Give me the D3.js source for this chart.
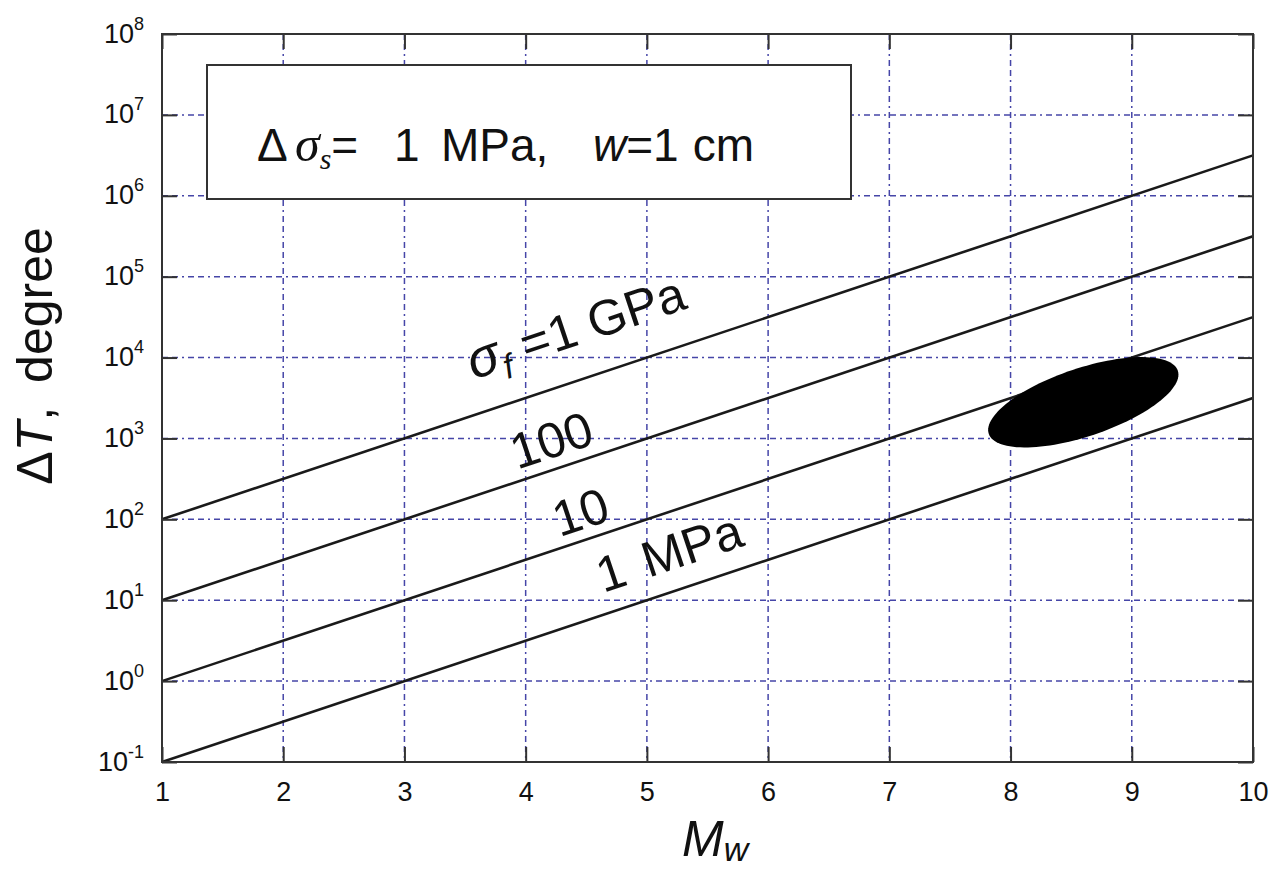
<!DOCTYPE html>
<html lang="en">
<head>
  <meta charset="UTF-8">
  <title>Delta T vs Mw</title>
  <style>
    body { margin: 0; background: #fff; }
    text { font-family: "Liberation Sans", Arial, Helvetica, sans-serif; fill: #111; }
  </style>
</head>
<body>
  <script src="https://d3js.org/d3.v7.min.js"></script>
  <script>
    // magnitude range and the four stress-drop lines (value at Mw=1 and Mw=10)
    const mwRange = [1, 10];
    const lineLabels = ['1 GPa', '100', '10', '1 MPa'];
    const dTStart = [1e2, 1e1, 1e0, 1e-1];
    const dTEnd = [3.16e6, 3.16e5, 3.16e4, 3.16e3];
    // where each label sits (Mw, deltaT)
    const labelMw = [3.57, 3.93, 4.28, 4.64];
    const labelDT = [5300, 410, 60, 12.3];

    const xTicks = [1, 2, 3, 4, 5, 6, 7, 8, 9, 10];
    const yExponents = [-1, 0, 1, 2, 3, 4, 5, 6, 7, 8];

    // observed region (black ellipse), center and half-axes in (Mw, decades)
    const blobCenter = [8.6, 2800];
    const blobMajor = [0.78, 0.39];
    const blobMinor = [0.088, -0.40];

    const [width, height] = [1274, 870];
    const margin = { top: 34, left: 162, right: 21, bottom: 108 };
    const w = width - margin.left - margin.right;
    const h = height - margin.top - margin.bottom;

    const svg = d3.select('body').append('svg').attr('width', width).attr('height', height);
    const g = svg.append('g').attr('transform', `translate(${margin.left},${margin.top})`);

    const x = d3.scaleLinear().domain(mwRange).range([0, w]);
    const y = d3.scaleLog().domain([1e-1, 1e8]).range([h, 0]);
    const yTicks = yExponents.map(e => Math.pow(10, e));

    // grid
    const gridColor = '#4646a8';
    const grid = g.append('g').attr('class', 'grid');
    grid.selectAll('line.v').data(xTicks).enter().append('line')
      .attr('x1', d => x(d)).attr('x2', d => x(d)).attr('y1', 0).attr('y2', h);
    grid.selectAll('line.h').data(yTicks).enter().append('line')
      .attr('y1', d => y(d)).attr('y2', d => y(d)).attr('x1', 0).attr('x2', w);
    grid.selectAll('line')
      .attr('stroke', gridColor).attr('stroke-width', 1.5)
      .attr('stroke-dasharray', '6,4,6,4,2,4');

    // lines
    const line = d3.line().x(d => x(d[0])).y(d => y(d[1]));
    g.append('g').selectAll('path')
      .data(lineLabels.map((l, i) => [[mwRange[0], dTStart[i]], [mwRange[1], dTEnd[i]]]))
      .enter().append('path')
      .attr('d', line)
      .attr('fill', 'none').attr('stroke', '#1a1a1a').attr('stroke-width', 2.6);

    // black ellipse
    const blobPts = d3.range(0, 2 * Math.PI + 0.01, Math.PI / 60).map(t => {
      const mw = blobCenter[0] + blobMajor[0] * Math.cos(t) + blobMinor[0] * Math.sin(t);
      const lg = Math.log10(blobCenter[1]) + blobMajor[1] * Math.cos(t) + blobMinor[1] * Math.sin(t);
      return [mw, Math.pow(10, lg)];
    });
    g.append('path').attr('d', line(blobPts) + 'Z').attr('fill', '#000');

    // line labels, rotated along the lines
    const angle = Math.atan2(y(dTEnd[0]) - y(dTStart[0]), x(mwRange[1]) - x(mwRange[0])) * 180 / Math.PI;
    const labels = g.append('g').selectAll('text')
      .data(lineLabels).enter().append('text')
      .attr('transform', (d, i) => `translate(${x(labelMw[i])},${y(labelDT[i])}) rotate(${angle})`)
      .attr('font-size', 50);
    labels.each(function (d, i) {
      const t = d3.select(this);
      if (i === 0) {
        t.append('tspan').attr('font-style', 'italic').attr('font-size', 54).text('σ');
        t.append('tspan').attr('font-style', 'italic').attr('font-size', 34).attr('dy', 10).text('f');
        t.append('tspan').attr('dy', -10).attr('dx', 14).text('=1 GPa');
      } else if (i === 3) {
        t.append('tspan').text('1');
        t.append('tspan').attr('dx', 20).text('MPa');
      } else {
        t.text(d);
      }
    });

    // annotation box
    const boxX = 207 - margin.left, boxY = 65 - margin.top;
    g.append('rect').attr('x', boxX).attr('y', boxY).attr('width', 644).attr('height', 134)
      .attr('fill', '#fff').attr('stroke', '#333').attr('stroke-width', 2);
    const bt = g.append('text').attr('y', boxY + 96).attr('font-size', 46);
    bt.append('tspan').attr('x', boxX + 50).text('Δ');
    bt.append('tspan').attr('x', boxX + 88).attr('font-family', 'Liberation Serif, Times New Roman, serif')
      .attr('font-style', 'italic').attr('font-size', 50).text('σ');
    bt.append('tspan').attr('font-family', 'Liberation Serif, Times New Roman, serif')
      .attr('font-style', 'italic').attr('font-size', 30).attr('dy', 8).text('s');
    bt.append('tspan').attr('dy', -8).text('=');
    bt.append('tspan').attr('x', boxX + 187).text('1');
    bt.append('tspan').attr('x', boxX + 234).text('MPa,');
    bt.append('tspan').attr('x', boxX + 386).attr('font-style', 'italic').text('w');
    bt.append('tspan').text('=1');
    bt.append('tspan').attr('dx', 14).text('cm');

    // axes, ticks pointing inward, mirrored on top and right
    const tick = 15;
    const axisStyle = sel => {
      sel.selectAll('.tick line').attr('stroke', '#333').attr('stroke-width', 2);
      sel.select('.domain').remove();
    };
    g.append('g').attr('transform', `translate(0,${h})`)
      .call(d3.axisBottom(x).tickValues(xTicks).tickSize(-tick).tickPadding(20).tickFormat(d3.format('d')))
      .call(axisStyle)
      .selectAll('text').attr('font-size', 27).attr('fill', '#111')
      .attr('font-family', '"Liberation Sans", Arial, sans-serif');
    g.append('g')
      .call(d3.axisTop(x).tickValues(xTicks).tickSize(-tick).tickFormat(''))
      .call(axisStyle);
    const yAxis = g.append('g')
      .call(d3.axisLeft(y).tickValues(yTicks).tickSize(-tick).tickFormat(''))
      .call(axisStyle);
    g.append('g').attr('transform', `translate(${w},0)`)
      .call(d3.axisRight(y).tickValues(yTicks).tickSize(-tick).tickFormat(''))
      .call(axisStyle);

    // y tick labels as 10^n
    yAxis.selectAll('.tick').each(function (d) {
      const e = Math.round(Math.log10(d));
      const t = d3.select(this).append('text')
        .attr('x', -18).attr('y', 8).attr('text-anchor', 'end').attr('font-size', 27);
      t.append('tspan').text('10');
      t.append('tspan').attr('font-size', 18).attr('dy', -13).text(e);
    });

    // frame
    g.append('rect').attr('width', w).attr('height', h)
      .attr('fill', 'none').attr('stroke', '#333').attr('stroke-width', 2);

    // axis titles
    const xt = svg.append('text').attr('x', 682).attr('y', 856).attr('font-size', 50);
    xt.append('tspan').attr('font-style', 'italic').text('M');
    xt.append('tspan').attr('font-style', 'italic').attr('font-size', 34).attr('dy', 5).text('w');

    const yt = svg.append('text')
      .attr('transform', 'translate(52,356) rotate(-90)')
      .attr('text-anchor', 'middle').attr('font-size', 50);
    yt.append('tspan').text('Δ');
    yt.append('tspan').attr('font-style', 'italic').text('T');
    yt.append('tspan').text(',');
    yt.append('tspan').attr('dx', 24).text('degree');
  </script>
</body>
</html>
